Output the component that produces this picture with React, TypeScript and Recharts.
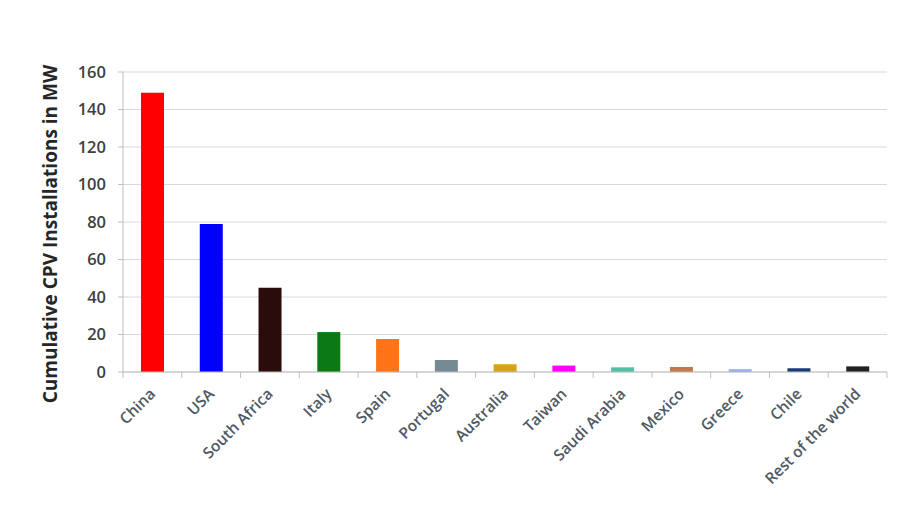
import { BarChart, Bar, XAxis, YAxis, CartesianGrid, Cell } from "recharts";

const countries = [
  "China",
  "USA",
  "South Africa",
  "Italy",
  "Spain",
  "Portugal",
  "Australia",
  "Taiwan",
  "Saudi Arabia",
  "Mexico",
  "Greece",
  "Chile",
  "Rest of the world",
];
const capacityMW = [149, 79, 45, 21.3, 17.6, 6.4, 4.1, 3.4, 2.5, 2.7, 1.5, 2, 3];
const barColors = [
  "#ff0000",
  "#0000ff",
  "#2a0c0c",
  "#0b7a12",
  "#ff7417",
  "#768a93",
  "#d4a416",
  "#ff00ff",
  "#52c0a6",
  "#c4774a",
  "#93b2e6",
  "#1c3a78",
  "#222222",
];
const yTicks = [0, 20, 40, 60, 80, 100, 120, 140, 160];

const data = countries.map((name, i) => ({ name, value: capacityMW[i] }));

const W = 921;
const H = 512;
const X_H = 30;
const M = { top: 72, right: 34, bottom: 140 - X_H, left: 60 };
const Y_W = 63;
const band = (W - M.left - M.right - Y_W) / countries.length;
const AXIS_Y = H - M.bottom - X_H;
const FONT = "Open Sans, sans-serif";

const XTick = (props: any) => {
  const { x, payload, index } = props;
  const tx = x + 4;
  const ty = AXIS_Y + 23;
  return (
    <g>
      {index === 0 && (
        <line x1={x - band / 2} y1={AXIS_Y} x2={x - band / 2} y2={AXIS_Y + 6} stroke="#bfbfbf" />
      )}
      <line x1={x + band / 2} y1={AXIS_Y} x2={x + band / 2} y2={AXIS_Y + 6} stroke="#bfbfbf" />
      <text
        x={tx}
        y={ty}
        textAnchor="end"
        transform={`rotate(-45, ${tx}, ${ty})`}
        fontSize={15.5}
        fontWeight={600}
        fill="#4f5964"
        fontFamily={FONT}
      >
        {payload.value}
      </text>
    </g>
  );
};

const YLabel = () => (
  <text
    x={57}
    y={234}
    textAnchor="middle"
    transform="rotate(-90, 57, 234)"
    fontSize={19}
    fontWeight="bold"
    fill="#262626"
    fontFamily={FONT}
  >
    Cumulative CPV Installations in MW
  </text>
);

export default function App() {
  return (
    <div style={{ position: "absolute", left: 0, top: 0, background: "#fff" }}>
      <BarChart width={W} height={H} data={data} margin={M} barSize={23}>
        <CartesianGrid vertical={false} stroke="#d9d9d9" />
        <XAxis
          dataKey="name"
          interval={0}
          height={X_H}
          stroke="#bfbfbf"
          tickLine={false}
          tick={<XTick />}
        />
        <YAxis
          width={Y_W}
          domain={[0, 160]}
          ticks={yTicks}
          stroke="#bfbfbf"
          tickSize={5}
          tickMargin={12}
          tick={{ fontSize: 16.5, fontWeight: 600, fill: "#404040", fontFamily: FONT }}
          label={<YLabel />}
        />
        <Bar dataKey="value" isAnimationActive={false}>
          {data.map((_, i) => (
            <Cell key={i} fill={barColors[i]} />
          ))}
        </Bar>
      </BarChart>
    </div>
  );
}
